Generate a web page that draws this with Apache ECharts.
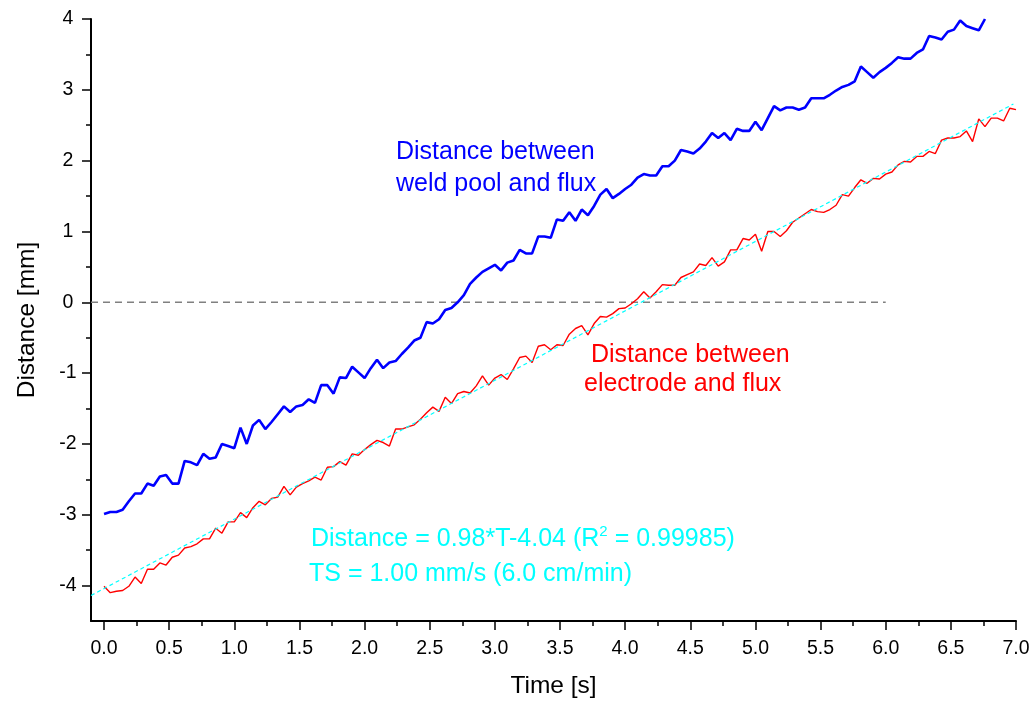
<!DOCTYPE html>
<html>
<head>
<meta charset="utf-8">
<script src="https://cdn.jsdelivr.net/npm/echarts@6/dist/echarts.min.js"></script>
<style>
html,body{margin:0;padding:0;background:#fff;}
#chart{width:1035px;height:704px;}
</style>
</head>
<body>
<div id="chart"></div>
<script>
// Sampling step of the measured series (s)
const DT = 1 / 21;

// Distance between weld pool and flux [mm], one value per sample
const blueDistance = [
  -2.99, -2.96, -2.96, -2.93, -2.81, -2.70, -2.70, -2.56, -2.59, -2.46,
  -2.44, -2.56, -2.56, -2.24, -2.26, -2.30, -2.14, -2.21, -2.19, -2.00,
  -2.03, -2.06, -1.77, -2.00, -1.74, -1.66, -1.79, -1.69, -1.58, -1.47,
  -1.55, -1.47, -1.45, -1.37, -1.42, -1.17, -1.17, -1.29, -1.06,
  -1.07, -0.91, -0.99, -1.07, -0.93, -0.81, -0.93, -0.85, -0.83, -0.73,
  -0.64, -0.54, -0.50, -0.28, -0.30, -0.24, -0.11, -0.08, 0.00, 0.10,
  0.26, 0.35, 0.43, 0.48, 0.53, 0.45, 0.56, 0.59, 0.74, 0.69,
  0.69, 0.93, 0.93, 0.91, 1.17, 1.15, 1.27,
  1.15, 1.31, 1.23, 1.36, 1.52, 1.60, 1.47, 1.53, 1.60, 1.66,
  1.76, 1.81, 1.79, 1.79, 1.92, 1.92, 2.00, 2.15, 2.13, 2.10,
  2.17, 2.27, 2.39, 2.32, 2.39, 2.29, 2.45, 2.42, 2.42, 2.55,
  2.43, 2.60, 2.77, 2.71, 2.75, 2.75, 2.72,
  2.75, 2.88, 2.88, 2.88, 2.93, 2.99, 3.04, 3.07, 3.12, 3.33,
  3.25, 3.17, 3.25, 3.31, 3.38, 3.46, 3.44, 3.44, 3.52, 3.57,
  3.76, 3.74, 3.71, 3.82, 3.85, 3.98, 3.90, 3.87, 3.84, 4.00
];

// Distance between electrode and flux [mm], one value per sample
const redDistance = [
  -4.01, -4.10, -4.08, -4.07, -4.01, -3.88, -3.97, -3.77, -3.77, -3.68,
  -3.71, -3.60, -3.57, -3.47, -3.45, -3.41, -3.34, -3.34, -3.19, -3.26,
  -3.10, -3.10, -2.97, -3.04, -2.90, -2.81, -2.86, -2.77, -2.75, -2.60,
  -2.72, -2.61, -2.56, -2.52, -2.47, -2.51, -2.33, -2.32, -2.25, -2.30,
  -2.14, -2.16, -2.08, -2.01, -1.95, -1.98, -2.03, -1.79, -1.79, -1.76,
  -1.73, -1.65, -1.56, -1.48, -1.54, -1.34, -1.43, -1.29, -1.26, -1.28,
  -1.18, -1.04, -1.17, -1.07, -1.02, -1.09, -0.94, -0.78, -0.76, -0.85,
  -0.62, -0.60, -0.67, -0.60, -0.61, -0.45, -0.37, -0.33, -0.46, -0.30,
  -0.20, -0.21, -0.16, -0.09, -0.08, -0.02, 0.05, 0.15, 0.06, 0.15,
  0.25, 0.24, 0.24, 0.35, 0.39, 0.43, 0.54, 0.52, 0.63, 0.51,
  0.57, 0.74, 0.74, 0.90, 0.88, 0.96, 0.72, 1.00, 1.00, 0.93,
  1.01, 1.13, 1.19, 1.25, 1.31, 1.28, 1.27, 1.31, 1.37, 1.52,
  1.50, 1.62, 1.73, 1.68, 1.75, 1.74, 1.81, 1.84, 1.94, 1.99,
  1.98, 2.06, 2.06, 2.13, 2.10, 2.29, 2.32, 2.32, 2.34, 2.42,
  2.27, 2.59, 2.48, 2.60, 2.60, 2.56, 2.74, 2.72
];

// Linear fit line (end points) and zero reference line (end points)
const fitTime = [-0.1, 6.98];
const fitDistance = [-4.14, 2.80];
const zeroTime = [-0.1, 6.0];
const zeroDistance = [0, 0];

// Axis ticks
const xMajorTicks = [0, 0.5, 1, 1.5, 2, 2.5, 3, 3.5, 4, 4.5, 5, 5.5, 6, 6.5, 7];
const xMinorTicks = [0.25, 0.75, 1.25, 1.75, 2.25, 2.75, 3.25, 3.75, 4.25, 4.75, 5.25, 5.75, 6.25, 6.75];
const yMajorTicks = [-4, -3, -2, -1, 0, 1, 2, 3, 4];
const yMinorTicks = [-3.5, -2.5, -1.5, -0.5, 0.5, 1.5, 2.5, 3.5];

// Texts
const blueLabel = ['Distance between', 'weld pool and flux'];
const redLabel = ['Distance between', 'electrode and flux'];
const fitLabelA = 'Distance = 0.98*T-4.04 (R';
const fitLabelSup = '2';
const fitLabelB = ' = 0.99985)';
const speedLabel = 'TS = 1.00 mm/s (6.0 cm/min)';

const FONT = "'Liberation Sans', Arial, Helvetica, sans-serif";

const toPoints = (arr) => arr.map((v, i) => [i * DT, v]);
const pairPoints = (xs, ys) => xs.map((x, i) => [x, ys[i]]);

const chart = echarts.init(document.getElementById('chart'), null, {renderer: 'canvas'});

const axisBase = {
  type: 'value',
  splitLine: {show: false},
};

const labelText = (txt, x, y, color) => ({
  type: 'text', x: x, y: y,
  style: {text: txt, fill: color, font: '25px ' + FONT, verticalAlign: 'middle'}
});

const option = {
  animation: false,
  backgroundColor: '#ffffff',
  grid: {left: 91, right: 19, top: 19, bottom: 82.5, containLabel: false},
  xAxis: [
    Object.assign({}, axisBase, {
      min: -0.1, max: 7.0,
      name: 'Time [s]',
      nameLocation: 'middle',
      nameGap: 53,
      nameTextStyle: {fontFamily: FONT, fontSize: 24.5, color: '#000'},
      axisLine: {show: true, onZero: false, lineStyle: {color: '#000', width: 2}},
      axisTick: {show: true, length: 9, customValues: xMajorTicks, lineStyle: {color: '#000', width: 1.5}},
      axisLabel: {show: true, customValues: xMajorTicks, margin: 18, fontFamily: FONT, fontSize: 19.5, color: '#000',
        formatter: (v) => Number(v).toFixed(1)},
    }),
    Object.assign({}, axisBase, {
      min: -0.1, max: 7.0, position: 'bottom', gridIndex: 0,
      axisLine: {show: false, onZero: false},
      axisTick: {show: true, length: 5, customValues: xMinorTicks, lineStyle: {color: '#000', width: 1.5}},
      axisLabel: {show: false},
    })
  ],
  yAxis: [
    Object.assign({}, axisBase, {
      min: -4.5, max: 4,
      name: 'Distance [mm]',
      nameLocation: 'middle',
      nameGap: 51,
      nameRotate: 90,
      nameTextStyle: {fontFamily: FONT, fontSize: 24.5, color: '#000'},
      axisLine: {show: true, onZero: false, lineStyle: {color: '#000', width: 2}},
      axisTick: {show: true, length: 9, customValues: yMajorTicks, lineStyle: {color: '#000', width: 1.5}},
      axisLabel: {show: true, customValues: yMajorTicks, margin: 23, align: 'center', fontFamily: FONT, fontSize: 19.5, color: '#000'},
    }),
    Object.assign({}, axisBase, {
      min: -4.5, max: 4, position: 'left', gridIndex: 0,
      axisLine: {show: false, onZero: false},
      axisTick: {show: true, length: 5, customValues: yMinorTicks, lineStyle: {color: '#000', width: 1.5}},
      axisLabel: {show: false},
    })
  ],
  series: [
    {
      name: 'zero', type: 'line', silent: true, symbol: 'none',
      data: pairPoints(zeroTime, zeroDistance),
      lineStyle: {color: '#808080', width: 1.5, type: [7, 5]},
      z: 1
    },
    {
      name: 'Distance between weld pool and flux', type: 'line', symbol: 'none',
      data: toPoints(blueDistance),
      lineStyle: {color: '#0000ff', width: 2.6},
      z: 3
    },
    {
      name: 'Distance between electrode and flux', type: 'line', symbol: 'none',
      data: toPoints(redDistance),
      lineStyle: {color: '#ff0000', width: 1.4},
      z: 3
    },
    {
      name: 'fit', type: 'line', symbol: 'none', silent: true,
      data: pairPoints(fitTime, fitDistance),
      lineStyle: {color: '#00ffff', width: 1.2, type: [4, 3]},
      z: 4
    }
  ],
  graphic: [
    labelText(blueLabel[0], 396, 152, '#0000ff'),
    labelText(blueLabel[1], 396, 184, '#0000ff'),
    labelText(redLabel[0], 591, 355, '#ff0000'),
    labelText(redLabel[1], 584, 384, '#ff0000'),
    {type: 'text', x: 311, y: 524, style: {
      text: '{a|' + fitLabelA + '}{s|' + fitLabelSup + '}{a|' + fitLabelB + '}',
      fill: '#00ffff',
      rich: {
        a: {fontFamily: FONT, fontSize: 25, color: '#00ffff', lineHeight: 30},
        s: {fontFamily: FONT, fontSize: 15, color: '#00ffff', lineHeight: 15, verticalAlign: 'top'}
      }
    }},
    labelText(speedLabel, 309, 574, '#00ffff')
  ]
};

chart.setOption(option);
</script>
</body>
</html>
